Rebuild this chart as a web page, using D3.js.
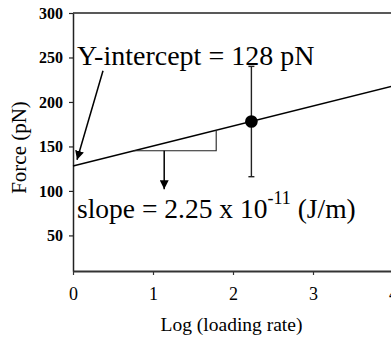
<!DOCTYPE html>
<html>
<head>
<meta charset="utf-8">
<script src="https://cdn.jsdelivr.net/npm/d3@7"></script>
<style>
  html, body { margin: 0; padding: 0; background: #fff; }
  svg { display: block; }
</style>
</head>
<body>
<svg id="chart" width="391" height="339"></svg>
<script>
// Measured rupture force versus log of loading rate
const logRate = [2.23];
const forceMean = [178];
const forceErr = [62];

// Linear fit: intercept (pN) and slope (pN per decade, 2.25e-11 J/m)
const fitIntercept = 128;
const fitSlope = 22.5;

// Slope triangle drawn under the fit line
const triangleX = [0.76, 1.79];

const xTicks = [0, 1, 2, 3, 4];
const yTicks = [50, 100, 150, 200, 250, 300];

const SERIF = "'Liberation Serif', 'Times New Roman', Times, serif";

const svg = d3.select("#chart")
  .attr("font-family", SERIF)
  .style("font-family", SERIF);

const x = d3.scaleLinear().domain([0, 4]).range([73, 393]);
const y = d3.scaleLinear().domain([10, 300]).range([271, 13]);
const fit = v => fitIntercept + fitSlope * v;

// Top frame line
svg.append("line")
  .attr("x1", x(0)).attr("x2", x(4))
  .attr("y1", y(300)).attr("y2", y(300))
  .attr("stroke", "#222").attr("stroke-width", 1.5);

// Y axis
const gy = svg.append("g")
  .attr("transform", `translate(${x(0)},0)`)
  .call(d3.axisLeft(y).tickValues(yTicks).tickSize(4).tickSizeOuter(0).tickPadding(6));
gy.attr("font-family", SERIF);
gy.select(".domain").attr("stroke", "#222").attr("stroke-width", 1.5);
gy.selectAll(".tick line").attr("stroke", "#222").attr("stroke-width", 1.2);
gy.selectAll(".tick text")
  .attr("font-family", SERIF)
  .attr("font-size", 16).attr("font-weight", "bold").attr("fill", "#000");

// X axis
const gx = svg.append("g")
  .attr("transform", `translate(0,${y(10)})`)
  .call(d3.axisBottom(x).tickValues(xTicks).tickFormat(d3.format("d")).tickSize(4).tickSizeOuter(0).tickPadding(12));
gx.attr("font-family", SERIF);
gx.select(".domain").attr("stroke", "#333").attr("stroke-width", 2);
gx.selectAll(".tick line").attr("stroke", "#333").attr("stroke-width", 1.2);
gx.selectAll(".tick text")
  .attr("font-family", SERIF)
  .attr("font-size", 18).attr("fill", "#000");

// Axis titles
svg.append("text")
  .attr("transform", `translate(26,147.5) rotate(-90)`)
  .attr("text-anchor", "middle")
  .attr("font-family", SERIF)
  .attr("font-size", 21)
  .text("Force (pN)");

svg.append("text")
  .attr("x", 231.5).attr("y", 331)
  .attr("text-anchor", "middle")
  .attr("font-family", SERIF)
  .attr("font-size", 19.5)
  .text("Log (loading rate)");

// Fit line
svg.append("line")
  .attr("x1", x(0)).attr("y1", y(fit(0)))
  .attr("x2", x(4)).attr("y2", y(fit(4)))
  .attr("stroke", "#000").attr("stroke-width", 1.4);

// Slope triangle
svg.append("path")
  .attr("d", d3.line()([
    [x(triangleX[0]), y(fit(triangleX[0]))],
    [x(triangleX[1]), y(fit(triangleX[0]))],
    [x(triangleX[1]), y(fit(triangleX[1]))]
  ]))
  .attr("fill", "none").attr("stroke", "#222").attr("stroke-width", 1.1);

// Arrowhead marker
svg.append("defs").append("marker")
  .attr("id", "arrow")
  .attr("viewBox", "0 0 10 10")
  .attr("refX", 10).attr("refY", 5)
  .attr("markerWidth", 9).attr("markerHeight", 9)
  .attr("markerUnits", "userSpaceOnUse")
  .attr("orient", "auto")
  .append("path").attr("d", "M0,0 L10,5 L0,10 Z").attr("fill", "#000");

// Arrow to the intercept
svg.append("line")
  .attr("x1", x(0.375)).attr("y1", y(235))
  .attr("x2", x(0.05)).attr("y2", y(135))
  .attr("stroke", "#000").attr("stroke-width", 1.5)
  .attr("marker-end", "url(#arrow)");

// Arrow from slope triangle to its label
const arrowX = 1.14;
svg.append("line")
  .attr("x1", x(arrowX)).attr("y1", y(fit(triangleX[0])))
  .attr("x2", x(arrowX)).attr("y2", y(102))
  .attr("stroke", "#000").attr("stroke-width", 1.5)
  .attr("marker-end", "url(#arrow)");

// Error bars
const eb = svg.append("g");
logRate.forEach((v, i) => {
  const cx = x(v);
  eb.append("line")
    .attr("x1", cx).attr("x2", cx)
    .attr("y1", y(forceMean[i] + forceErr[i])).attr("y2", y(forceMean[i] - forceErr[i]))
    .attr("stroke", "#222").attr("stroke-width", 1.4);
  [forceMean[i] + forceErr[i], forceMean[i] - forceErr[i]].forEach(e => {
    eb.append("line")
      .attr("x1", cx - 3).attr("x2", cx + 3)
      .attr("y1", y(e)).attr("y2", y(e))
      .attr("stroke", "#222").attr("stroke-width", 1.4);
  });
});

// Data point
svg.selectAll("circle.pt")
  .data(logRate)
  .join("circle")
  .attr("class", "pt")
  .attr("cx", d => x(d))
  .attr("cy", (d, i) => y(forceMean[i]))
  .attr("r", 6.3)
  .attr("fill", "#000");

// Annotations
svg.append("text")
  .attr("x", 77).attr("y", 65)
  .attr("font-family", SERIF)
  .attr("font-size", 28)
  .text(`Y-intercept = ${fitIntercept} pN`);

const slopeText = svg.append("text")
  .attr("x", 77).attr("y", 218)
  .attr("font-family", SERIF)
  .attr("font-size", 27.5);
slopeText.append("tspan").text("slope = 2.25 x 10");
slopeText.append("tspan").attr("dy", -14).attr("font-size", 18).text("-11");
slopeText.append("tspan").attr("dy", 14).text(" (J/m)");
</script>
</body>
</html>
